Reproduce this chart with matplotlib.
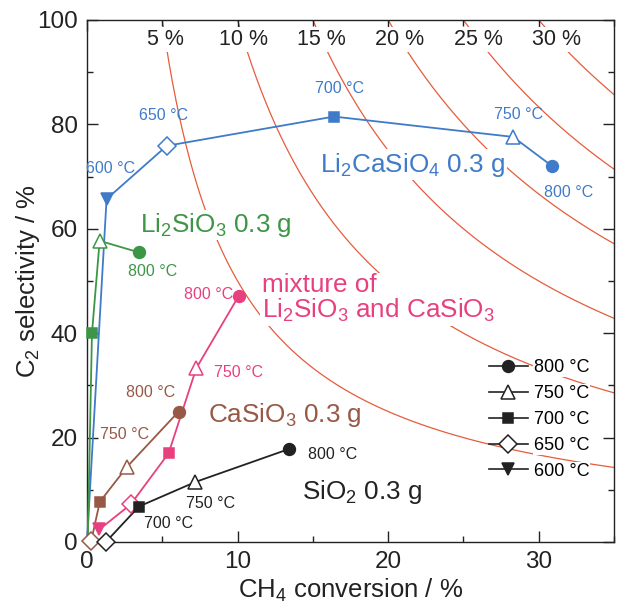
import matplotlib
matplotlib.use("Agg")
import matplotlib.pyplot as plt
from matplotlib.lines import Line2D
import numpy as np

plt.rcParams['font.family'] = ['Liberation Sans', 'DejaVu Sans']
plt.rcParams['mathtext.fontset'] = 'custom'
plt.rcParams['mathtext.rm'] = 'Liberation Sans'
plt.rcParams['mathtext.it'] = 'Liberation Sans:italic'
plt.rcParams['mathtext.bf'] = 'Liberation Sans:bold'

# ---- data: CH4 conversion (%), C2 selectivity (%), reaction temperature (°C)
li2casio4_conv = [0.0, 1.3, 5.3, 16.4, 28.3, 30.85]
li2casio4_sel = [0.0, 65.7, 75.9, 81.5, 77.6, 72.1]
li2casio4_temp = [None, 600, 650, 700, 750, 800]

li2sio3_conv = [0.05, 0.33, 0.84, 3.43]
li2sio3_sel = [0.0, 40.0, 57.7, 55.5]
li2sio3_temp = [None, 700, 750, 800]

mix_conv = [0.82, 2.9, 5.42, 7.26, 10.07]
mix_sel = [2.4, 7.2, 17.0, 33.3, 47.1]
mix_temp = [600, 650, 700, 750, 800]

casio3_conv = [0.28, 0.85, 2.66, 6.09]
casio3_sel = [0.2, 7.7, 14.4, 25.0]
casio3_temp = [650, 700, 750, 800]

sio2_conv = [1.25, 3.45, 7.2, 13.4]
sio2_sel = [0.0, 6.8, 11.5, 17.8]
sio2_temp = [650, 700, 750, 800]

# C2 yield iso-lines (%)
yield_levels = [5, 10, 15, 20, 25, 30]
legend_temps = [800, 750, 700, 650, 600]

MARKERS = {800: 'o', 750: '^', 700: 's', 650: 'D', 600: 'v'}
OPEN = {750, 650}
MSIZE = {800: 8.5, 750: 9.5, 700: 7.5, 650: 9.5, 600: 8.5}

BLUE = '#3f7bc8'
GREEN = '#3d9646'
PINK = '#e8407f'
BROWN = '#985846'
BLACK = '#222222'
ISO = '#e65c3c'

fig = plt.figure(figsize=(6.24, 6.10), dpi=100)
ax = fig.add_axes([87 / 624, 68 / 610, 527 / 624, 522 / 610])
ax.set_xlim(0, 35)
ax.set_ylim(0, 100)

# iso-yield curves: selectivity = 100 * yield / conversion
for Y in yield_levels:
    xs = np.linspace(Y, 35, 400)
    ax.plot(xs, 100.0 * Y / xs, color=ISO, lw=0.9, zorder=1)
    ax.text(100.0 * Y / 96.2, 96.2, f'{Y} %', ha='center', va='center',
            fontsize=15.5, color='#222222', zorder=2,
            bbox=dict(facecolor='white', edgecolor='none', pad=1.5))


def draw_series(conv, sel, temps, color, labels):
    ax.plot(conv, sel, color=color, lw=1.3, zorder=3, clip_on=False)
    for x, y, t in zip(conv, sel, temps):
        if t is None:
            continue
        face = 'white' if t in OPEN else color
        ax.plot([x], [y], marker=MARKERS[t], ms=MSIZE[t], mfc=face,
                mec=color, mew=1.1, zorder=4, clip_on=False, ls='none')
    for t, dx, dy, ha in labels:
        i = temps.index(t)
        ax.annotate(f'{t} °C', (conv[i], sel[i]), xytext=(dx, dy),
                    textcoords='offset points', ha=ha, va='center',
                    fontsize=11.5, color=color, zorder=5)


draw_series(li2casio4_conv, li2casio4_sel, li2casio4_temp, BLUE,
            [(600, 3, 22, 'center'), (650, -2, 22, 'center'),
             (700, 4, 20, 'center'), (750, 4, 16, 'center'),
             (800, 12, -19, 'center')])
draw_series(li2sio3_conv, li2sio3_sel, li2sio3_temp, GREEN,
            [(800, 10, -14, 'center')])
draw_series(mix_conv, mix_sel, mix_temp, PINK,
            [(800, -4, 1, 'right'), (750, 13, -3, 'left')])
draw_series(casio3_conv, casio3_sel, casio3_temp, BROWN,
            [(800, -20, 14, 'center'), (750, -2, 23, 'center')])
draw_series(sio2_conv, sio2_sel, sio2_temp, BLACK,
            [(800, 14, -4, 'left'), (750, 11, -15.5, 'center'),
             (700, 21.5, -12.5, 'center')])

# sample names
name_box = dict(facecolor='white', edgecolor='none', pad=1.0)
ax.text(15.5, 72.3, 'Li$_2$CaSiO$_4$ 0.3 g', fontsize=18.8, color=BLUE,
        va='center', ha='left', bbox=name_box, zorder=2)
ax.text(3.55, 60.7, 'Li$_2$SiO$_3$ 0.3 g', fontsize=18.8, color=GREEN,
        va='center', ha='left', bbox=name_box, zorder=2)
ax.text(11.6, 46.6, 'mixture of\nLi$_2$SiO$_3$ and CaSiO$_3$', fontsize=18.8,
        color=PINK, va='center', ha='left', linespacing=1.0, bbox=name_box,
        zorder=2)
ax.text(8.05, 24.3, 'CaSiO$_3$ 0.3 g', fontsize=18.8, color=BROWN,
        va='center', ha='left', bbox=name_box, zorder=2)
ax.text(14.3, 9.6, 'SiO$_2$ 0.3 g', fontsize=18.8, color=BLACK,
        va='center', ha='left', bbox=name_box, zorder=2)

# temperature legend
handles = []
for t in legend_temps:
    face = 'white' if t in OPEN else BLACK
    handles.append(Line2D([], [], color=BLACK, lw=1.2, marker=MARKERS[t],
                          ms=MSIZE[t], mfc=face, mec=BLACK, mew=1.1))
leg = ax.legend(handles, [f'{t} °C' for t in legend_temps],
                loc='upper left', bbox_to_anchor=(0.762, 0.350),
                frameon=False, fontsize=13, handlelength=2.2,
                handletextpad=0.3, labelspacing=0.49, borderpad=0,
                borderaxespad=0)
for txt in leg.get_texts():
    txt.set_bbox(dict(facecolor='white', edgecolor='none', pad=0.5))
leg.set_zorder(6)

# axes styling
ax.set_xticks([0, 10, 20, 30])
ax.set_xticks([5, 15, 25, 35], minor=True)
ax.set_yticks([0, 20, 40, 60, 80, 100])
ax.set_yticks([10, 30, 50, 70, 90], minor=True)
ax.tick_params(which='both', direction='in', top=True, right=True,
               width=1.0, colors='#222222', labelsize=17.5, pad=6.5)
ax.tick_params(which='major', length=8)
ax.tick_params(which='minor', length=4.5)
for sp in ax.spines.values():
    sp.set_linewidth(1.0)
    sp.set_color('#222222')
ax.set_xlabel('CH$_4$ conversion / %', fontsize=18.5, color='#222222',
              labelpad=3)
ax.set_ylabel('C$_2$ selectivity / %', fontsize=18.5, color='#222222')
ax.yaxis.set_label_coords(-0.086, 0.5)

fig.savefig('out.png', dpi=100, facecolor='white')
